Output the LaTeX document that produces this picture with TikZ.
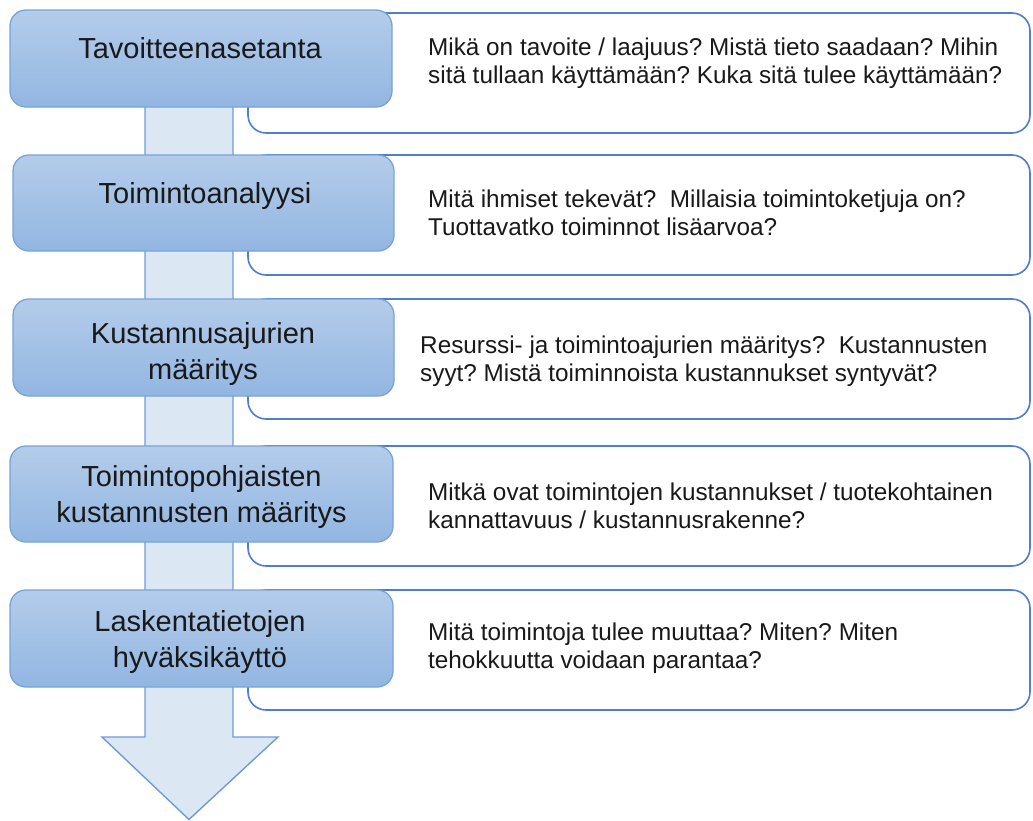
\documentclass[tikz,border=0pt]{standalone}
\usepackage{fontspec}
\setmainfont{Liberation Sans}
\frenchspacing
\definecolor{boxtop}{RGB}{180,204,234}
\definecolor{boxbottom}{RGB}{146,182,226}
\definecolor{boxborder}{RGB}{120,163,215}
\definecolor{shaftfill}{RGB}{220,231,244}
\definecolor{shaftborder}{RGB}{110,155,215}
\definecolor{callborder}{RGB}{80,125,205}
\definecolor{ink}{RGB}{25,25,25}
\tikzset{
  x=1pt, y=-1pt,
  stepbox/.style={rectangle, rounded corners=16pt, draw=boxborder, line width=1.3pt,
    top color=boxtop, bottom color=boxbottom, inner sep=0pt},
  callbox/.style={rectangle, rounded corners=18pt, draw=callborder, line width=1.6pt,
    fill=white, inner sep=0pt, minimum width=782pt, minimum height=120pt},
  steptext/.style={anchor=base, inner sep=0pt, text=ink, align=center,
    font=\fontsize{29}{36}\selectfont},
  calltext/.style={anchor=base west, inner sep=0pt, text=ink, align=left,
    font=\fontsize{24.3}{27.5}\selectfont},
  flow/.style={draw=shaftborder, line width=1.4pt, fill=shaftfill, line join=miter}
}
\begin{document}
\begin{tikzpicture}
\useasboundingbox (0,0) rectangle (1033,820);

% downward flow arrow behind the steps
\draw[flow] (145,60) -- (145,737) -- (102,737) -- (189,819.5) -- (278,737)
  -- (233,737) -- (233,60) -- cycle;

% question panels
\node[callbox] (c1) at (639,73) {};
\node[callbox] (c2) at (639,215) {};
\node[callbox] (c3) at (639,359) {};
\node[callbox] (c4) at (639,506) {};
\node[callbox] (c5) at (639,650) {};

% step boxes
\node[stepbox, minimum width=382pt, minimum height=97pt] (b1) at (201,58.5) {};
\node[stepbox, minimum width=381pt, minimum height=96pt] (b2) at (203.5,203) {};
\node[stepbox, minimum width=381pt, minimum height=97pt] (b3) at (203.5,347.5) {};
\node[stepbox, minimum width=383pt, minimum height=96pt] (b4) at (201.5,494) {};
\node[stepbox, minimum width=383pt, minimum height=97pt] (b5) at (201.5,638.5) {};

% step titles (anchored on the baseline of the last line)
\node[steptext] (t1) at (200,58) {Tavoitteenasetanta};
\node[steptext] (t2) at (205,203) {Toimintoanalyysi};
\node[steptext] (t3) at (203,379) {Kustannusajurien\\määritys};
\node[steptext] (t4) at (201.5,522) {Toimintopohjaisten\\kustannusten määritys};
\node[steptext] (t5) at (200,667) {Laskentatietojen\\hyväksikäyttö};

% questions (anchored on the baseline of the last line)
\node[calltext] (q1) at (428,83) {Mikä on tavoite / laajuus? Mistä tieto saadaan? Mihin\\sitä tullaan käyttämään? Kuka sitä tulee käyttämään?};
\node[calltext] (q2) at (428,235) {Mitä ihmiset tekevät?~ Millaisia toimintoketjuja on?\\Tuottavatko toiminnot lisäarvoa?};
\node[calltext] (q3) at (420,381) {Resurssi- ja toimintoajurien määritys?~ Kustannusten\\syyt? Mistä toiminnoista kustannukset syntyvät?};
\node[calltext] (q4) at (428,528) {Mitkä ovat toimintojen kustannukset / tuotekohtainen\\kannattavuus / kustannusrakenne?};
\node[calltext] (q5) at (428,668) {Mitä toimintoja tulee muuttaa? Miten? Miten\\tehokkuutta voidaan parantaa?};
\end{tikzpicture}
\end{document}
